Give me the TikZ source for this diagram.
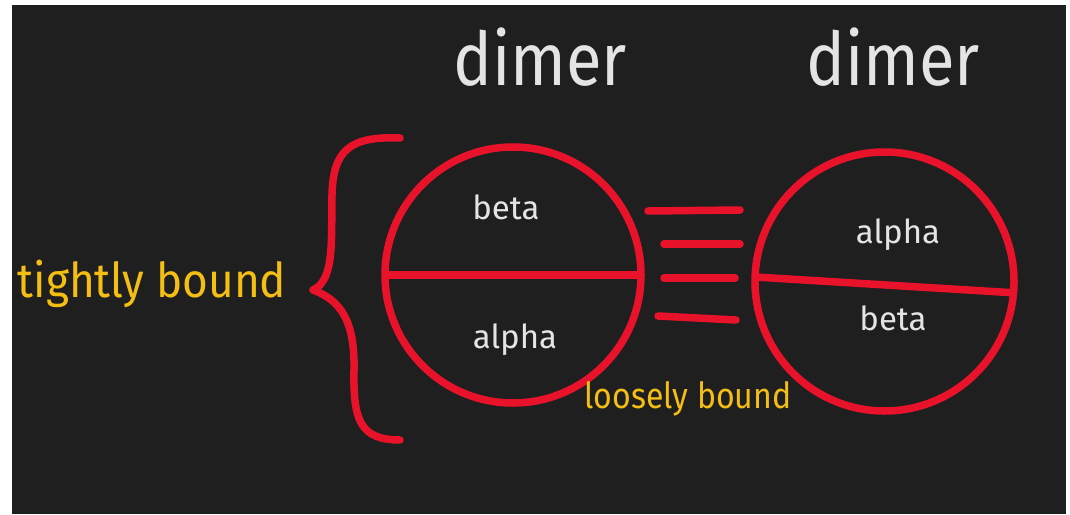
\documentclass[tikz,border=0pt]{standalone}
\usepackage{fontspec}
\setmainfont{Fira Sans}
\definecolor{bgdark}{HTML}{1F1F1F}
\definecolor{pred}{HTML}{E8132A}
\definecolor{pyellow}{HTML}{F4BE12}
\definecolor{pwhite}{HTML}{E4E4E4}
\tikzset{
  redline/.style={draw=pred, line width=7.5pt, line cap=round, line join=round},
  ring/.style={circle, draw=pred, line width=7.5pt, inner sep=0pt, outer sep=0pt},
  bigtitle/.style={text=pwhite, anchor=base, inner sep=0pt, font=\fontsize{74}{74}\selectfont, xscale=0.88},
  note/.style={text=pyellow, anchor=base, inner sep=0pt},
  part/.style={text=pwhite, anchor=base, inner sep=0pt, font=\fontsize{33}{33}\selectfont},
}
\begin{document}
\begin{tikzpicture}[x=1pt,y=-1pt]
\useasboundingbox (0,0) rectangle (1070,514);
\fill[white] (0,0) rectangle (1070,514);
\fill[bgdark] (12,5) rectangle (1066,514);
% titles
\node[bigtitle] (d1) at (540,85) {dimer};
\node[bigtitle] (d2) at (893,85) {dimer};
% circles
\node[ring, minimum size=256pt] (L) at (513,275) {};
\node[ring, minimum size=259pt] (R) at (884.5,281.5) {};
\draw[redline, line cap=butt] (L.180) -- (L.0);
\draw[redline, line cap=butt] (R.178) -- (R.-5);
% labels inside
\node[part] (lb) at (506,219) {beta};
\node[part] (la) at (515,348) {alpha};
\node[part] (ra) at (898,243) {alpha};
\node[part] (rb) at (893,330) {beta};
% bonds
\draw[redline] (648,211) -- (740,210);
\draw[redline] (664,244) -- (740,244);
\draw[redline] (664,278) -- (735,278);
\draw[redline] (658,316) -- (736,320);
% brace
\draw[redline] (400,138) .. controls (350,136) and (333,150) .. (332,195)
  .. controls (331,240) and (335,280) .. (313,290)
  .. controls (340,300) and (355,320) .. (354,370)
  .. controls (353,420) and (360,440) .. (400,440);
% notes
\node[note, font=\fontsize{48}{48}\selectfont, xscale=0.92] (tb) at (152,297) {tightly bound};
\node[note, font=\fontsize{36}{36}\selectfont, xscale=0.89] (lo) at (688,408) {loosely bound};
\end{tikzpicture}
\end{document}
